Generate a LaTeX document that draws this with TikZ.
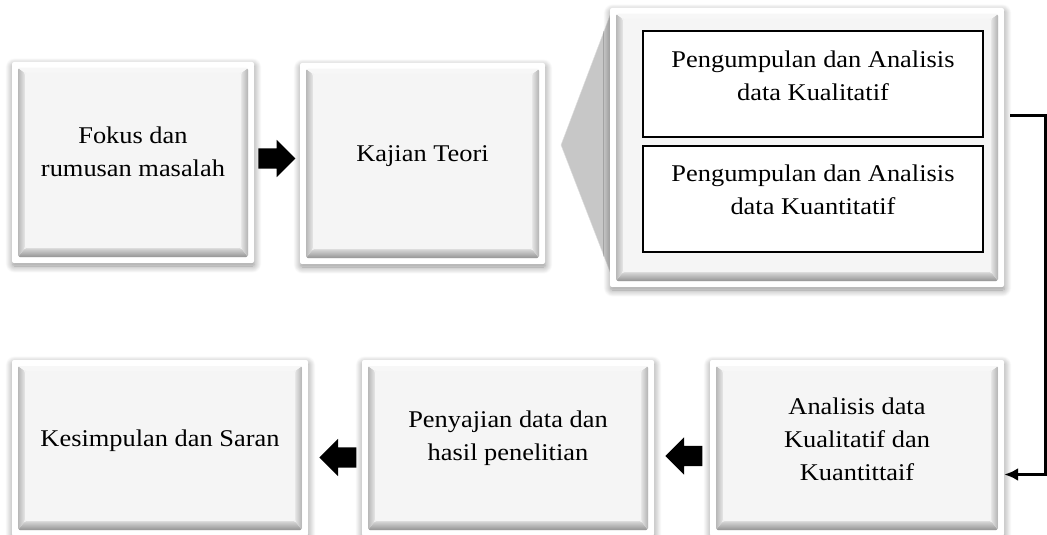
\documentclass[tikz,border=0pt]{standalone}
\usepackage{fontspec}
\setmainfont{Liberation Serif}[FakeStretch=1.1]
\usetikzlibrary{shapes.arrows, arrows.meta, calc, shadows.blur}

\tikzset{
    panel/.style={rectangle, rounded corners=2pt, fill=white, inner sep=0pt,
        blur shadow={shadow xshift=0.5pt, shadow yshift=-3pt, shadow blur radius=7pt,
            shadow blur steps=12, shadow opacity=45},
        path picture={
            \coordinate (o1) at ([shift={(6pt,6pt)}]path picture bounding box.south west);
            \coordinate (o2) at ([shift={(-6pt,-6pt)}]path picture bounding box.north east);
            \coordinate (i1) at ([shift={(13pt,15pt)}]path picture bounding box.south west);
            \coordinate (i2) at ([shift={(-13pt,-11pt)}]path picture bounding box.north east);
            \fill[black!5] (o1) rectangle (o2);
            \shade[top color=black!15, bottom color=black!42] (o1) -- (o2 |- o1) -- (i2 |- i1) -- (i1) -- cycle;
            \shade[left color=black!10, right color=black!30] (o2 |- o1) -- (o2) -- (i2) -- (i2 |- i1) -- cycle;
            \shade[left color=black!28, right color=black!9] (o1) -- (i1) -- (i1 |- i2) -- (o1 |- o2) -- cycle;
            \fill[black!3] (o1 |- o2) -- (i1 |- i2) -- (i2) -- (o2) -- cycle;
            \fill[black!4] (i1) rectangle (i2);
        }},
    subbox/.style={rectangle, draw, line width=2pt, fill=white, inner sep=0pt,
        minimum width=340pt, minimum height=106pt},
    txt/.style={align=center, inner sep=0pt, font=\fontsize{24}{33}\selectfont},
    blockarrow/.style={single arrow, fill=black, inner xsep=0pt, inner ysep=10pt,
        minimum height=37pt, single arrow head extend=8.5pt},
    conn/.style={line width=3pt, -{Latex[length=14pt, width=13pt]}}
}

\begin{document}
\begin{tikzpicture}[x=1pt, y=-1pt]
    \useasboundingbox (0,0) rectangle (1047,535);

    % callout behind the group box
    \coordinate (tip) at (561,145);
    \filldraw[fill=black!22, draw=black!12] (tip) -- (612,10) -- (612,277) -- cycle;

    % top row
    \node[panel, minimum width=242pt, minimum height=201pt] (fokus) at (133,162.5) {};
    \node[panel, minimum width=245pt, minimum height=201pt] (kajian) at (422.5,163.5) {};
    \node[panel, minimum width=394pt, minimum height=279pt] (grp) at (807,147.5) {};
    \node[subbox] (kual) at (813,84) {};
    \node[subbox] (kuan) at (813,199) {};

    % bottom row
    \node[panel, minimum width=296pt, minimum height=176pt] (simpul) at (160,448) {};
    \node[panel, minimum width=292pt, minimum height=176pt] (sajian) at (508,448) {};
    \node[panel, minimum width=294pt, minimum height=176pt] (analisis) at (857,448) {};

    % texts
    \node[txt] (fokus-t) at ([yshift=11pt]fokus.center) {Fokus dan\\rumusan masalah};
    \node[txt] (kajian-t) at ([yshift=7.3pt]kajian.center) {Kajian Teori};
    \node[txt] (kual-t) at ([yshift=8.6pt]kual.center) {Pengumpulan dan Analisis\\data Kualitatif};
    \node[txt] (kuan-t) at ([yshift=9.6pt]kuan.center) {Pengumpulan dan Analisis\\data Kuantitatif};
    \node[txt] (simpul-t) at ([yshift=6.8pt]simpul.center) {Kesimpulan dan Saran};
    \node[txt] (sajian-t) at ([yshift=10pt]sajian.center) {Penyajian data dan\\hasil penelitian};
    \node[txt] (analisis-t) at ([yshift=9pt]analisis.center) {Analisis data\\Kualitatif dan\\Kuantittaif};

    % block arrows
    \node[blockarrow, anchor=tail] (ar1) at ([shift={(4pt,4pt)}]fokus.east) {};
    \node[blockarrow, shape border rotate=180, anchor=tip] (ar2) at ([shift={(11pt,-9.5pt)}]simpul.east) {};
    \node[blockarrow, shape border rotate=180, anchor=tip] (ar3) at ([shift={(11pt,-8pt)}]sajian.east) {};

    % connector
    \coordinate (out) at (1010,115);
    \coordinate (elbow) at (1045,115);
    \draw[conn] (out) -- (elbow) |- ([yshift=-26.5pt]analisis.east);
\end{tikzpicture}
\end{document}
